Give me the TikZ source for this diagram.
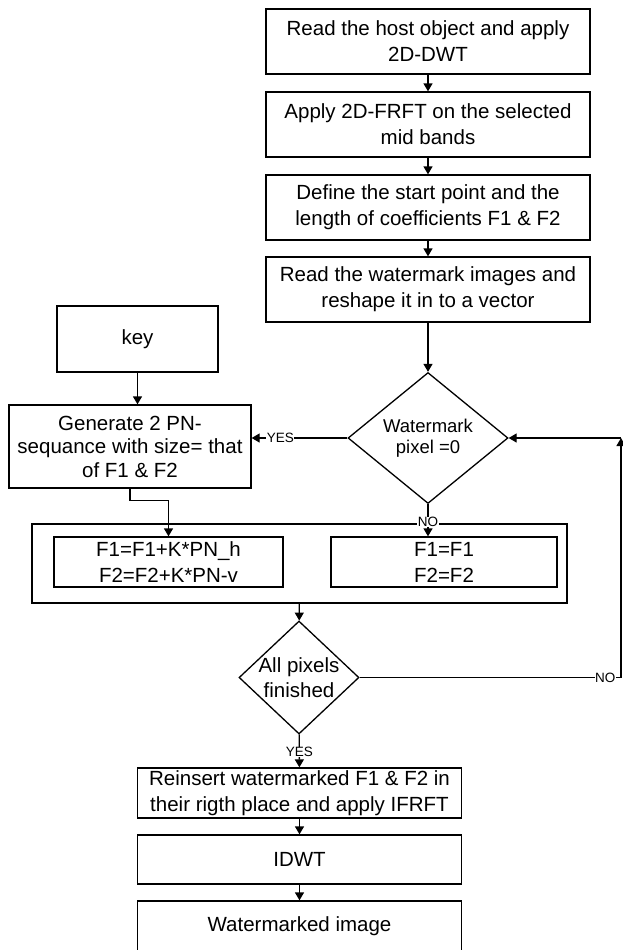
\documentclass[tikz,border=0pt]{standalone}
\usepackage{fontspec}
\setmainfont{Liberation Sans}
\usetikzlibrary{shapes.geometric, arrows.meta, positioning, calc}

\begin{document}
\begin{tikzpicture}[
  x=1pt, y=-1pt,
  stepbox/.style={draw, line width=1.3pt, minimum width=324pt, minimum height=65pt, inner sep=0pt, align=center, font=\fontsize{20.5}{26}\selectfont},
  decbox/.style={draw, diamond, line width=1.3pt, inner sep=0pt},
  dectext/.style={align=center, inner sep=0pt, font=\fontsize{18.5}{21.5}\selectfont},
  mergebox/.style={draw, line width=1.3pt, minimum width=535pt, minimum height=79pt, inner sep=0pt},
  flow/.style={line width=1.3pt, -{Triangle[length=8pt, width=9pt]}},
  lbl/.style={fill=white, inner sep=0.5pt, font=\fontsize{13.5}{14}\selectfont}
]
  \useasboundingbox (0,0) rectangle (623,950);

  % Preparation column
  \node[stepbox] (read) at (428, 41.5) {Read the host object and apply\\2D-DWT};
  \node[stepbox] (frft) at (428, 124.5) {Apply 2D-FRFT on the selected\\mid bands};
  \node[stepbox] (coef) at (428, 207.5) {Define the start point and the\\length of coefficients F1 \& F2};
  \node[stepbox] (wmread) at (428, 289.5) {Read the watermark images and\\reshape it in to a vector};

  % Key and PN sequences
  \node[stepbox, minimum width=161pt, minimum height=66pt] (key) at (137.5, 339) {key};
  \node[stepbox, minimum width=242pt, minimum height=83pt, font=\fontsize{20.5}{23.5}\selectfont] (pngen) at (130, 446.5) {Generate 2 PN-\\sequance with size= that\\of F1 \& F2};

  % Watermark pixel test
  \node[decbox, minimum width=160pt, minimum height=131pt, label={[dectext]center:Watermark\\pixel =0}] (pixdec) at (428, 438) {};

  % Embedding
  \node[mergebox] (embed) at (299.5, 563.5) {};
  \node[stepbox, minimum width=229pt, minimum height=50pt] (addpn) at (168.5, 562) {F1=F1+K*PN\_h\\F2=F2+K*PN-v};
  \node[stepbox, minimum width=226pt, minimum height=50pt] (keep) at (444, 562) {F1=F1\\F2=F2};

  % Loop test
  \node[decbox, minimum width=120pt, minimum height=113pt, label={[dectext, font=\fontsize{20.5}{25}\selectfont]center:All pixels\\finished}] (alldec) at (299, 677.5) {};
  \coordinate (loop) at (621, 438);

  % Output
  \node[stepbox, minimum height=50pt] (reins) at (299.5, 793) {Reinsert watermarked F1 \& F2 in\\their rigth place and apply IFRFT};
  \node[stepbox, minimum height=49pt] (idwt) at (299.5, 859.5) {IDWT};
  \node[stepbox, minimum height=50pt] (wmimg) at (299.5, 926) {Watermarked image};

  % Connectors
  \draw[flow] (read) -- (frft);
  \draw[flow] (frft) -- (coef);
  \draw[flow] (coef) -- (wmread);
  \draw[flow] (wmread) -- (pixdec);
  \draw[flow] (key) -- (key |- pngen.north);
  \draw[flow] (pixdec.west) -- node[lbl, pos=0.7] {YES} (pixdec.west -| pngen.east);
  \draw[flow] (pngen.south) -- ++(0,12) -| (addpn.north);
  \draw[flow] (pixdec.south) -- node[lbl, pos=0.55] {NO} (pixdec.south |- keep.north);
  \draw[flow] (embed) -- (alldec);
  \draw[flow] (alldec.east) -- node[lbl, pos=0.94] {NO} (alldec.east -| loop) -- (loop);
  \draw[flow] (loop) -- (pixdec.east);
  \draw[flow] (alldec) -- node[lbl, pos=0.53] {YES} (reins);
  \draw[flow] (reins) -- (idwt);
  \draw[flow] (idwt) -- (wmimg);
\end{tikzpicture}
\end{document}
